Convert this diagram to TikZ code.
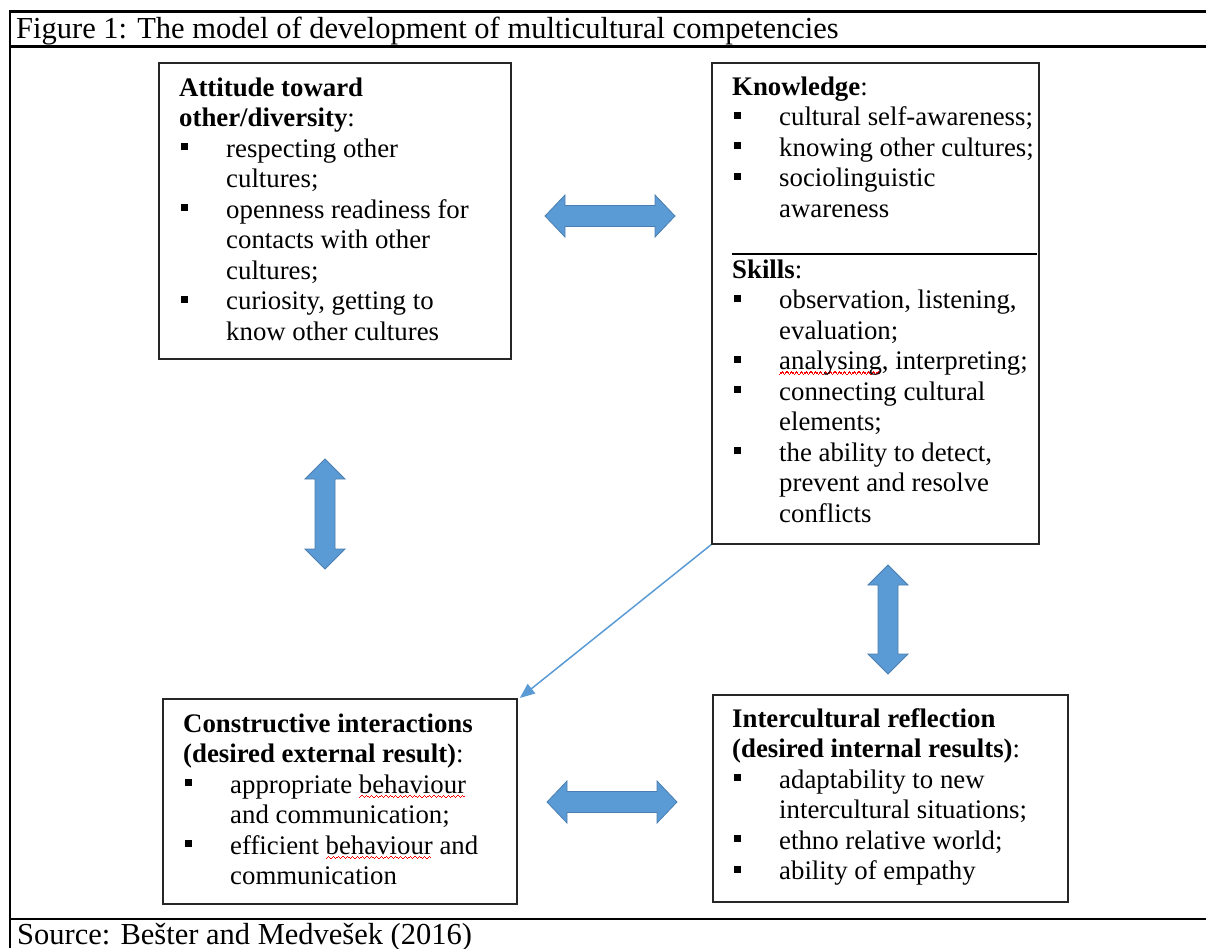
\documentclass[tikz,border=0pt]{standalone}
\usepackage{fontspec}
\setmainfont{Liberation Serif}
\usetikzlibrary{calc,arrows.meta}
\definecolor{arrowblue}{HTML}{5B9BD5}
\definecolor{arrowedge}{HTML}{4A7EB0}
\newcommand\waveunit{\hbox{\raisebox{0pt}{\rule{1.2pt}{1.2pt}}\raisebox{1.1pt}{\rule{1.2pt}{1.2pt}}\raisebox{2.2pt}{\rule{1.2pt}{1.2pt}}\raisebox{1.1pt}{\rule{1.2pt}{1.2pt}}}}
\newcommand\spellwave[1]{\setbox0\hbox{#1}\rlap{\color{red}\lower5pt\hbox to\wd0{\leaders\waveunit\hfil}}\box0\relax}
\newlength\bind
\newcommand\sq{\raisebox{7pt}{\rule{7pt}{7pt}}}
\newcommand\bi[1]{\makebox[\bind][l]{\hspace{2pt}\sq}#1}
\newcommand\ci[1]{\hspace*{\bind}#1}
\newcommand\boxfont{\fontsize{26.8}{30.5}\selectfont}
\newcommand\blockharrow[3]{% x1, x2, yc
  \fill[arrowblue,draw=arrowedge,line width=0.8pt]
    (#1,#3) -- ++(20,-21) -- ++(0,10.5) -- (#2-20,#3-10.5) -- ++(0,-10.5) -- (#2,#3)
    -- (#2-20,#3+21) -- ++(0,-10.5) -- (#1+20,#3+10.5) -- ++(0,10.5) -- cycle;}
\newcommand\blockvarrow[3]{% y1, y2, xc
  \fill[arrowblue,draw=arrowedge,line width=0.8pt]
    (#3,#1) -- ++(-20,20) -- ++(10,0) -- (#3-10,#2-20) -- ++(-10,0) -- (#3,#2)
    -- (#3+20,#2-20) -- ++(-10,0) -- (#3+10,#1+20) -- ++(10,0) -- cycle;}
\tikzset{
  frameline/.style={line width=2.4pt,black},
  box/.style={draw=black!85,line width=1.8pt,fill=white,anchor=north west,inner sep=0pt},
  txt/.style={anchor=north west,inner sep=0pt,align=left,font=\boxfont,
    execute at begin node={\setlength\bind{47pt}}},
  thinarrow/.style={arrowblue,line width=1.5pt,-{Triangle[length=15pt,width=12pt]}},
  caption/.style={anchor=base west,inner sep=0pt,font=\fontsize{30.5}{36}\selectfont},
}
\begin{document}
\begin{tikzpicture}[x=1pt,y=-1pt]
\useasboundingbox (0,0) rectangle (1206,948);
% frame
\draw[frameline] (10,11.5) -- (1206,11.5);
\draw[frameline] (10,46.5) -- (1206,46.5);
\draw[frameline] (10,919) -- (1206,919);
\draw[frameline] (10,10.3) -- (10,948);
\node[caption] (title) at (16,38) {Figure 1: The model of development of multicultural competencies};
\node[caption] (source) at (17,944) {Source: Bešter and Medvešek (2016)};
% boxes
\node[box,minimum width=352pt,minimum height=296pt] (A) at (158,62) {};
\node[box,minimum width=327pt,minimum height=481pt] (K) at (711,62) {};
\node[box,minimum width=354pt,minimum height=205pt] (C) at (162,698) {};
\node[box,minimum width=355pt,minimum height=207pt] (I) at (712,694) {};
% texts
\node[txt] (At) at (179,76) {\rule{0pt}{20pt}\textbf{Attitude toward}\\
\textbf{other/diversity}:\\
\bi{respecting other}\\
\ci{cultures;}\\
\bi{openness readiness for}\\
\ci{contacts with other}\\
\ci{cultures;}\\
\bi{curiosity, getting to}\\
\ci{know other cultures}};
\node[txt] (Kt) at (732,75) {\rule{0pt}{20pt}\textbf{Knowledge}:\\
\bi{cultural self-awareness;}\\
\bi{knowing other cultures;}\\
\bi{sociolinguistic}\\
\ci{awareness}\\
\mbox{}\\
\textbf{Skills}:\\
\bi{observation, listening,}\\
\ci{evaluation;}\\
\bi{\spellwave{analysing}, interpreting;}\\
\bi{connecting cultural}\\
\ci{elements;}\\
\bi{the ability to detect,}\\
\ci{prevent and resolve}\\
\ci{conflicts}};
\draw[line width=1.5pt] (732,254) -- (1037,254);
\node[txt] (Ct) at (183,712) {\rule{0pt}{20pt}\textbf{Constructive interactions}\\
\textbf{(desired external result)}:\\
\bi{appropriate \spellwave{behaviour}}\\
\ci{and communication;}\\
\bi{efficient \spellwave{behaviour} and}\\
\ci{communication}};
\node[txt] (It) at (732,707) {\rule{0pt}{20pt}\textbf{Intercultural reflection}\\
\textbf{(desired internal results)}:\\
\bi{adaptability to new}\\
\ci{intercultural situations;}\\
\bi{ethno relative world;}\\
\bi{ability of empathy}};
% block arrows
\blockharrow{545}{675}{216}
\blockharrow{547}{677}{802}
\blockvarrow{459}{569}{325}
\blockvarrow{565}{674}{888}
% thin arrow
\draw[thinarrow] (K.south west) -- ($(C.north east)+(2,0)$);
\end{tikzpicture}
\end{document}
